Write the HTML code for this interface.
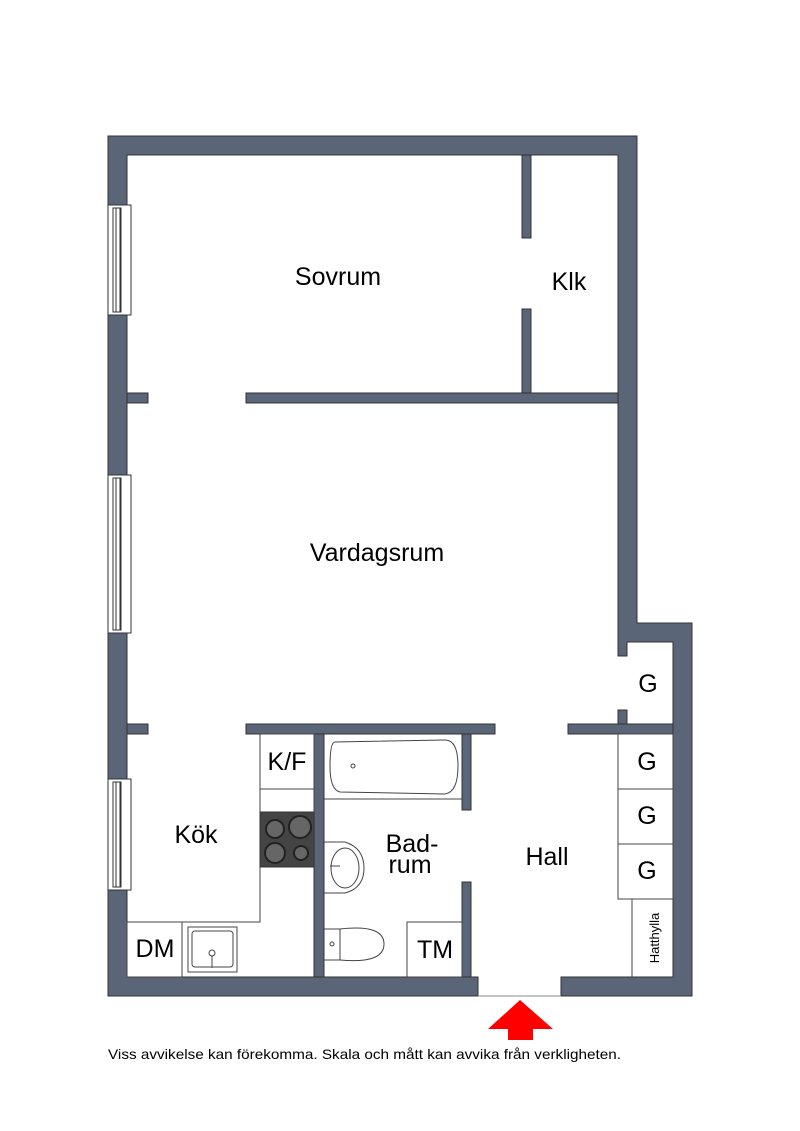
<!DOCTYPE html>
<html><head><meta charset="utf-8"><style>body{margin:0;background:#fff}svg{display:block}</style></head><body>
<svg width="800" height="1131" viewBox="0 0 800 1131" xmlns="http://www.w3.org/2000/svg" font-family="Liberation Sans, sans-serif">
<g fill="#5a6577" stroke="#333" stroke-width="1">
<path d="M108 136H637V623H692V996H561V977H673V642H627V656H618V155H127V977H478V996H108Z"/>
<rect x="127" y="393" width="21" height="10"/>
<rect x="246" y="393" width="372" height="10"/>
<rect x="522" y="155" width="9" height="83"/>
<rect x="522" y="309" width="9" height="84"/>
<rect x="127" y="724" width="21" height="10"/>
<rect x="246" y="724" width="249" height="10"/>
<rect x="568" y="724" width="105" height="10"/>
<rect x="618" y="710" width="9" height="14"/>
<rect x="314" y="734" width="10" height="243"/>
<rect x="462" y="734" width="9" height="76"/>
<rect x="462" y="882" width="9" height="95"/>
</g>
<g fill="#fff" stroke="#333" stroke-width="1">
<rect x="108" y="205" width="23" height="110"/><rect x="113" y="208" width="8" height="104"/><rect x="116" y="208" width="4" height="104"/>
<rect x="108" y="475" width="23" height="158"/><rect x="113" y="478" width="8" height="152"/><rect x="116" y="478" width="4" height="152"/>
<rect x="108" y="779" width="23" height="111"/><rect x="113" y="782" width="8" height="105"/><rect x="116" y="782" width="4" height="105"/>
</g>
<g fill="none" stroke="#444" stroke-width="1">
<path d="M260 734V922H127"/>
<rect x="260" y="734" width="54" height="55"/>
<rect x="260" y="789" width="54" height="23"/>
<rect x="127" y="922" width="55" height="55"/>
<path d="M182 922H260"/>
<rect x="188" y="927" width="49" height="45"/><rect x="192" y="931" width="41" height="36" rx="3"/>
<circle cx="212" cy="953" r="3"/><path d="M212 956V968"/>
<path d="M324 799H462"/>
<path d="M335 742Q330 742 330 766Q330 790 340 792L445 794Q458 792 458 766Q458 740 445 740Z"/>
<circle cx="353" cy="766" r="2"/>
<path d="M324 842H345Q364 848 364 868Q364 888 345 893H324"/>
<ellipse cx="345" cy="868" rx="14" ry="20"/>
<path d="M330 866H340"/>
<path d="M324 929H340V960H324"/><path d="M340 929Q384 924 384 944Q384 964 340 960"/>
<circle cx="332" cy="944" r="2"/>
<rect x="407" y="922" width="55" height="55"/>
<rect x="618" y="734" width="55" height="55"/>
<rect x="618" y="789" width="55" height="55"/>
<rect x="618" y="844" width="55" height="55"/>
<path d="M632 899V977"/>
<path d="M478 996H561" stroke="#888"/>
</g>
<rect x="260" y="812" width="54" height="55" fill="#444" stroke="#333"/>
<g fill="#666" stroke="#222" stroke-width="2">
<circle cx="275" cy="829" r="9"/><circle cx="300" cy="827" r="11"/><circle cx="275" cy="853" r="10"/><circle cx="301" cy="853" r="7"/>
</g>
<path d="M520 1000L553 1029H533V1040H508V1029H488Z" fill="#f00"/>
<g font-size="25" fill="#000" text-anchor="middle">
<text x="338" y="285">Sovrum</text>
<text x="569" y="290">Klk</text>
<text x="377" y="561">Vardagsrum</text>
<text x="196" y="843">Kök</text>
<text x="287" y="770">K/F</text>
<text x="412" y="852">Bad-</text>
<text x="410" y="873">rum</text>
<text x="547" y="865">Hall</text>
<text x="155" y="957">DM</text>
<text x="435" y="958">TM</text>
<text x="648" y="692">G</text>
<text x="647" y="770">G</text>
<text x="647" y="824">G</text>
<text x="647" y="879">G</text>
</g>
<text x="659" y="938" font-size="13" text-anchor="middle" transform="rotate(-90 659 938)">Hatthylla</text>
<text x="108" y="1059" font-size="14" textLength="513" lengthAdjust="spacingAndGlyphs">Viss avvikelse kan förekomma. Skala och mått kan avvika från verkligheten.</text>
</svg>
</body></html>
